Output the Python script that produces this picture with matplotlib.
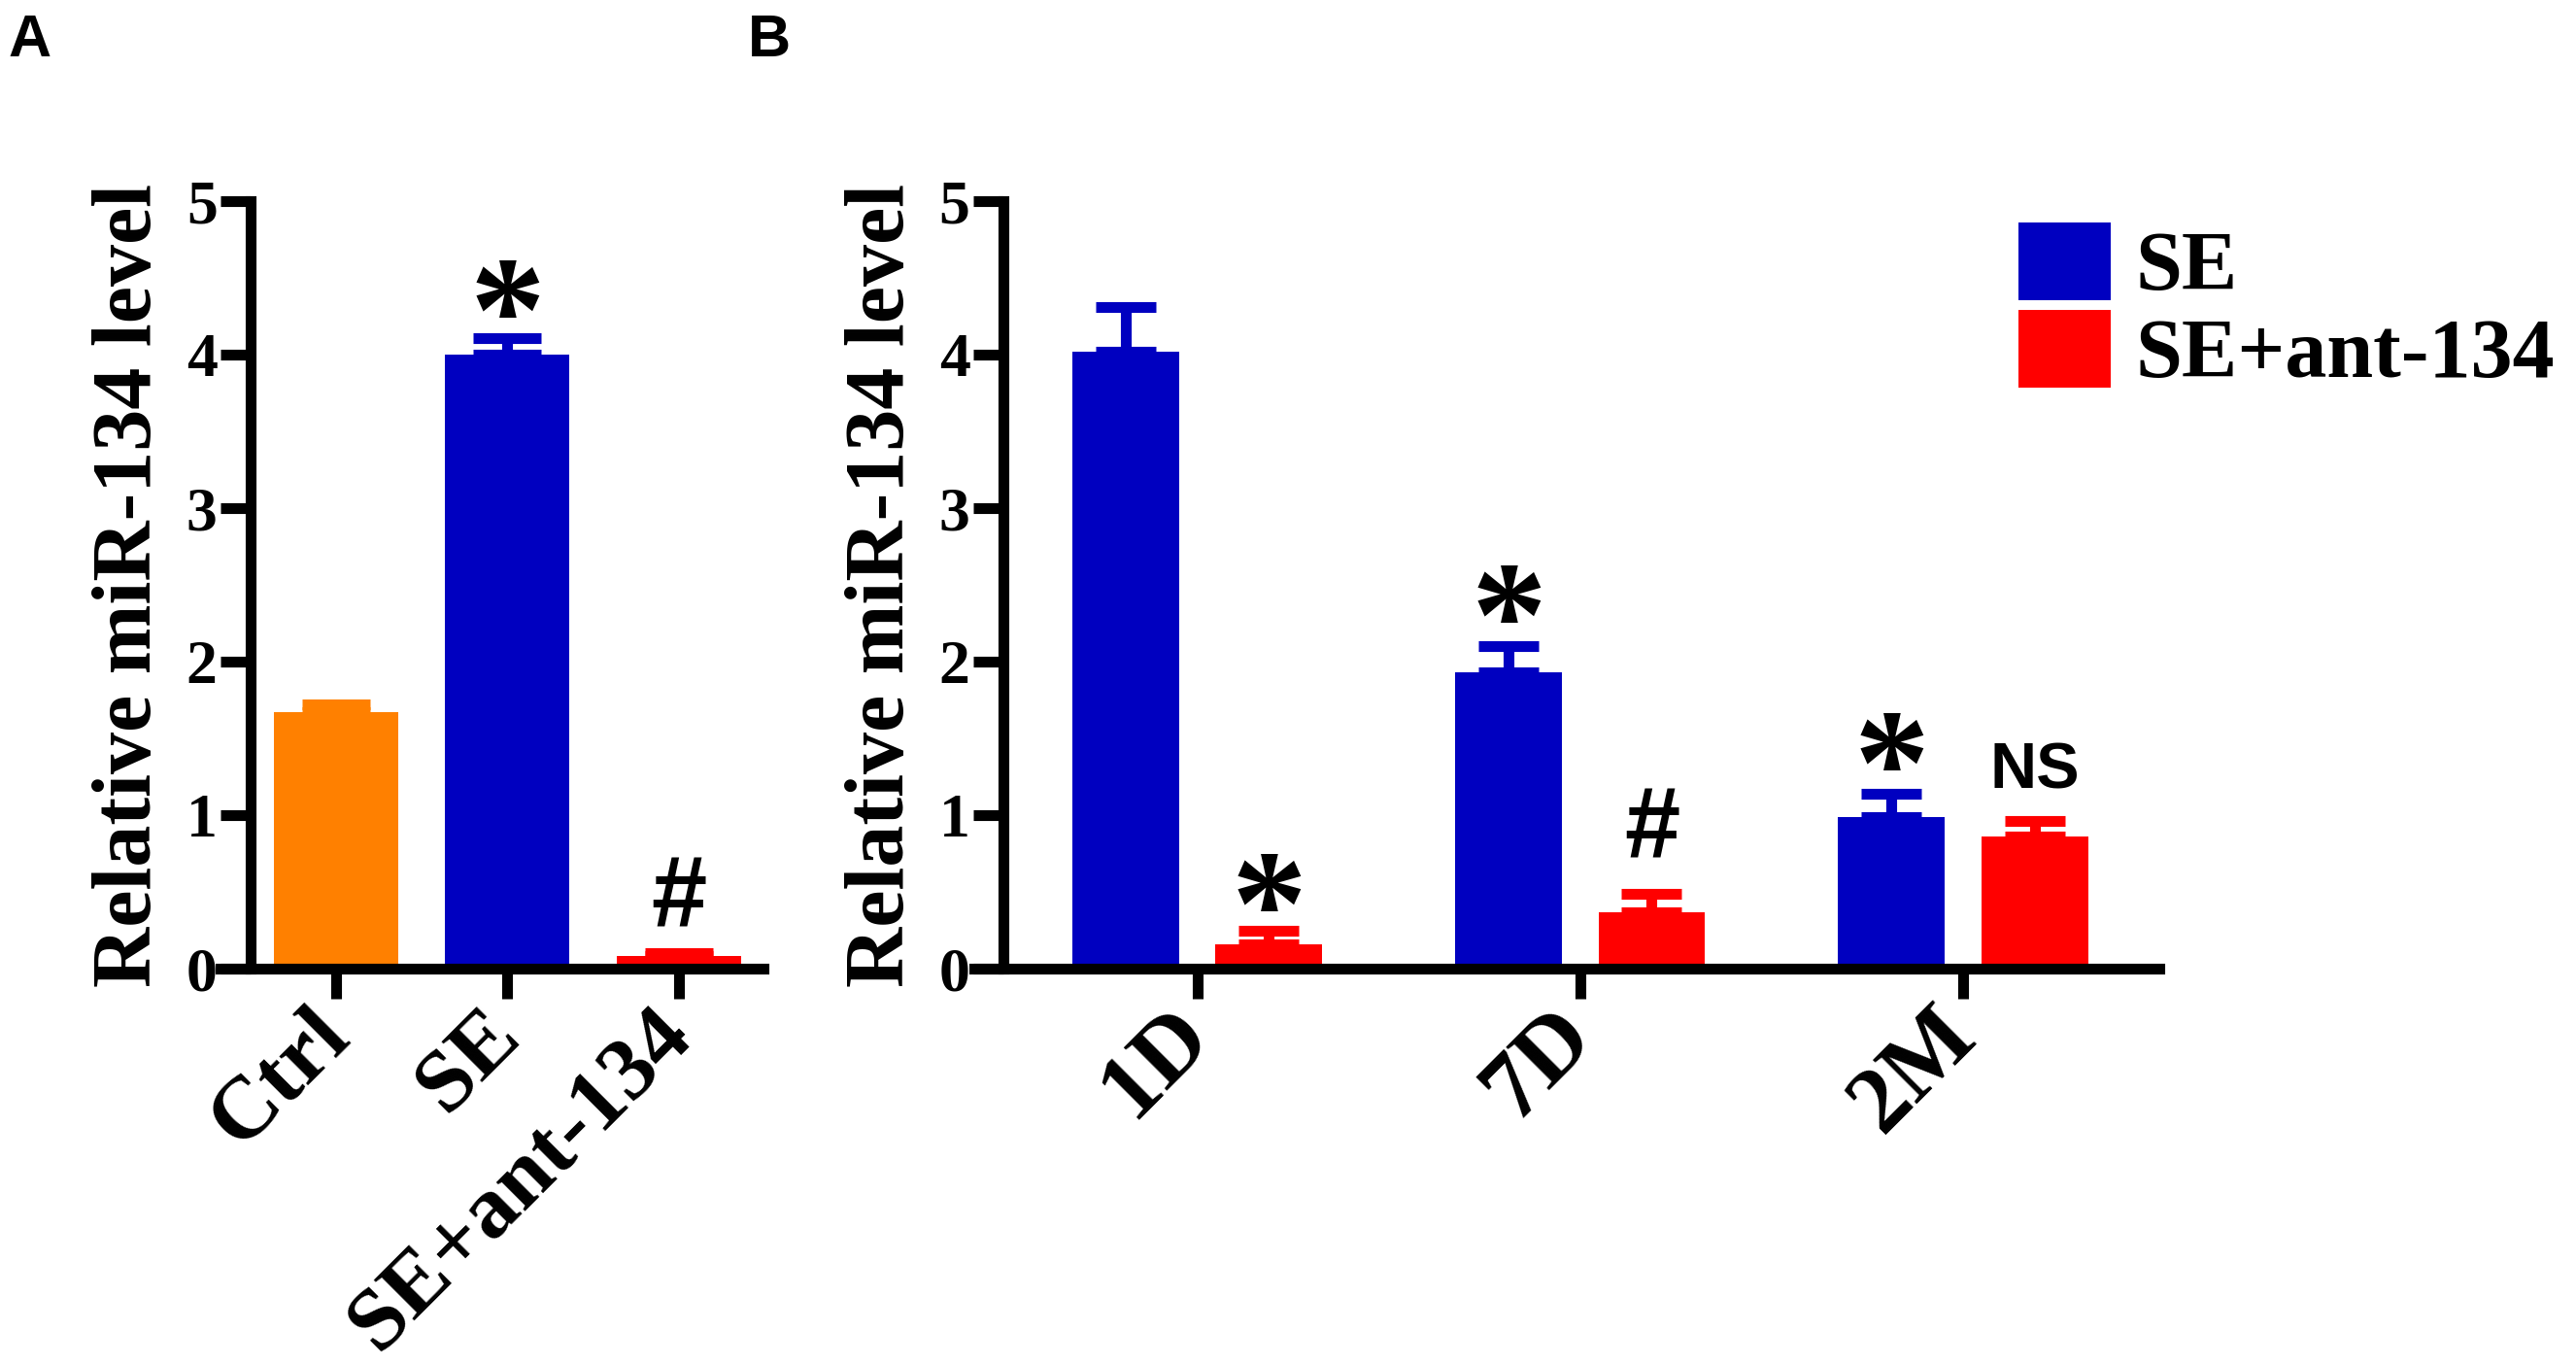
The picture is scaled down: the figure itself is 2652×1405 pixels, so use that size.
import numpy as np
import matplotlib
matplotlib.use('Agg')
import matplotlib.pyplot as plt
from matplotlib.font_manager import FontProperties

# panel A
a_groups = ['Ctrl', 'SE', 'SE+ant-134']
a_means = [1.67, 4.00, 0.08]
a_err = [0.05, 0.11, 0.02]
a_colors = ['#FF8000', '#0000C0', '#FF0000']
a_marks = [('SE', 4.44, '*'), ('SE+ant-134', 0.44, '#')]

# panel B
b_groups = ['1D', '7D', '2M']
b_se = [4.02, 1.93, 0.99]
b_se_err = [0.29, 0.17, 0.15]
b_ant = [0.16, 0.37, 0.86]
b_ant_err = [0.09, 0.12, 0.10]
b_series = ['SE', 'SE+ant-134']
b_marks = [(0, 'SE+ant-134', 0.57, '*'), (1, 'SE', 2.45, '*'), (1, 'SE+ant-134', 0.89, '#'),
           (2, 'SE', 1.49, '*'), (2, 'SE+ant-134', 1.28, 'NS')]

SERIF = 'Liberation Serif'
SANS = 'Liberation Sans'
W, H = 2652, 1405
fig = plt.figure(figsize=(W / 100, H / 100), dpi=100)

def fp(fam, size):
    return FontProperties(family=fam, weight='bold', size=size)

def px_axes(x0, x1, y_top, y_bot):
    return fig.add_axes([x0 / W, 1 - y_bot / H, (x1 - x0) / W, (y_bot - y_top) / H])

def style_axes(ax, spine_x):
    for s in ['top', 'right']:
        ax.spines[s].set_visible(False)
    ax.spines['left'].set_position(('data', spine_x))
    ax.spines['left'].set_bounds(0, 5)
    ax.spines['left'].set_capstyle('projecting')
    ax.spines['left'].set_linewidth(8)
    ax.spines['bottom'].set_linewidth(8)
    ax.set_ylim(0, 5)
    ax.set_yticks([0, 1, 2, 3, 4, 5])
    ax.tick_params(axis='y', length=22.5, width=8, pad=2.5)
    ax.tick_params(axis='x', length=22, width=8, pad=18)
    for lab in ax.get_yticklabels():
        lab.set_fontproperties(fp(SERIF, 46))
    ax.set_ylabel('Relative miR-134 level', fontproperties=fp(SERIF, 62))

def mark(ax, x, y, s):
    # y is where the glyph centre sits; the star glyph rides high in its box
    if s == '*':
        ax.annotate(s, (x, y), xytext=(0, -27), textcoords='offset points', ha='center', va='center',
                    fontproperties=fp(SERIF, 112))
    elif s == '#':
        ax.annotate(s, (x, y), ha='center', va='center', fontproperties=fp(SANS, 74))
    else:
        ax.annotate(s, (x, y), ha='center', va='center', fontproperties=fp(SANS, 48))

# ---- A ----
axA = px_axes(227, 786, 207, 997)
xa = np.arange(len(a_groups))
axA.bar(xa, a_means, width=0.725, color=a_colors, zorder=2)
for i in range(len(xa)):
    axA.errorbar(xa[i], a_means[i], yerr=[[0], [a_err[i]]], fmt='none', ecolor=a_colors[i],
                 elinewidth=8, capsize=25, capthick=8, zorder=1)
axA.set_xlim(-0.674, 2.493)
style_axes(axA, -0.496)
axA.set_xticks(xa)
axA.set_xticklabels(a_groups, rotation=45, ha='right', va='center', rotation_mode='anchor',
                    fontproperties=fp(SERIF, 66))
axA.yaxis.set_label_coords(-0.095, 0.5)
for g, y, s in a_marks:
    mark(axA, xa[a_groups.index(g)], y, s)

# ---- B ----
axB = px_axes(1003, 2223, 207, 997)
xb = np.arange(len(b_groups))
off = 0.187
bw = 0.279
b_colors = ['#0000C0', '#FF0000']
for k, (vals, errs) in enumerate([(b_se, b_se_err), (b_ant, b_ant_err)]):
    pos = xb + (k - 0.5) * 2 * off
    axB.bar(pos, vals, width=bw, color=b_colors[k], label=b_series[k], zorder=2)
    axB.errorbar(pos, vals, yerr=[np.zeros(len(vals)), errs], fmt='none', ecolor=b_colors[k],
                 elinewidth=8, capsize=22, capthick=8, zorder=1)
axB.set_xlim(-0.583, 2.513)
style_axes(axB, -0.506)
axB.set_xticks(xb)
axB.set_xticklabels(b_groups, rotation=45, ha='right', va='center', rotation_mode='anchor',
                    fontproperties=fp(SERIF, 70))
axB.yaxis.set_label_coords(-0.0443, 0.5)
for gi, ser, y, s in b_marks:
    k = b_series.index(ser)
    mark(axB, xb[gi] + (k - 0.5) * 2 * off, y, s)

leg = axB.legend(loc='upper left', bbox_to_anchor=(1075 / 1220, 0.972), frameon=False,
                 prop=fp(SERIF, 62), handlelength=1.1, handleheight=1.05, handletextpad=0.3,
                 labelspacing=0.02, borderaxespad=0, borderpad=0)

fig.text(8 / W, 1 - 14 / H, 'A', ha='left', va='top', fontproperties=fp(SANS, 44))
fig.text(770 / W, 1 - 14 / H, 'B', ha='left', va='top', fontproperties=fp(SANS, 44))

fig.savefig('out.png', dpi=100)
